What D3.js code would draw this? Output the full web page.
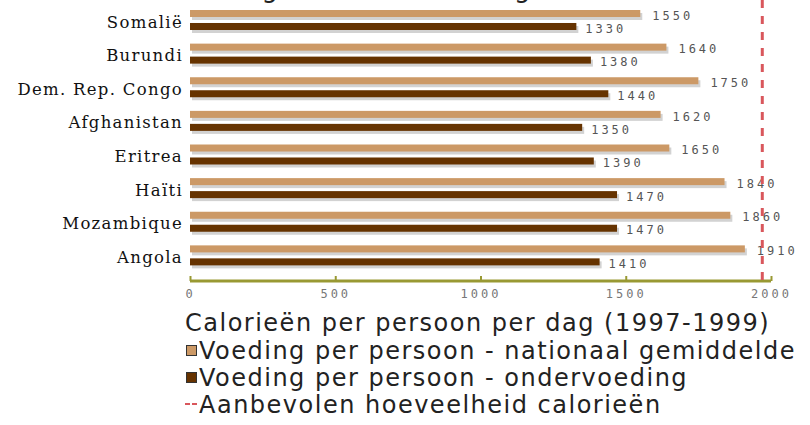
<!DOCTYPE html>
<html>
<head>
<meta charset="utf-8">
<script src="https://cdn.jsdelivr.net/npm/d3@7"></script>
<style>
  body { margin: 0; background: #fff; }
  svg { display: block; }
  .cat { font-family: "DejaVu Serif", serif; font-size: 16.5px; fill: #111; letter-spacing: 1.3px; }
  .val { font-family: "DejaVu Sans Mono", monospace; font-size: 12px; fill: #555; letter-spacing: 3px; }
  .big { font-family: "DejaVu Sans", sans-serif; font-size: 24px; fill: #222; letter-spacing: 1.5px; }
</style>
</head>
<body>
<div id="chart"></div>
<script>
// data
const countries = ["Somalië", "Burundi", "Dem. Rep. Congo", "Afghanistan", "Eritrea", "Haïti", "Mozambique", "Angola"];
const nationaal = [1550, 1640, 1750, 1620, 1650, 1840, 1860, 1910];
const ondervoeding = [1330, 1380, 1440, 1350, 1390, 1470, 1470, 1410];
const aanbevolen = 1970;
const xTicks = [0, 500, 1000, 1500, 2000];
const seriesNames = ["Voeding per persoon - nationaal gemiddelde", "Voeding per persoon - ondervoeding"];
const colors = ["#cc9966", "#663300"];
const title = "Voedselvoorziening en ondervoeding";
const axisTitle = "Calorieën per persoon per dag (1997-1999)";
const refLabel = "Aanbevolen hoeveelheid calorieën";

const W = 810, H = 425;
const svg = d3.select("#chart").append("svg")
  .attr("width", W)
  .attr("height", H);

const x = d3.scaleLinear().domain([0, 2000]).range([190, 771]);
const y = d3.scaleBand().domain(countries).range([4, 273]);
const inner = d3.scaleBand().domain([0, 1]).range([6, 26]).paddingInner(0.46);

// title, cut off by the top edge as in the original
svg.append("text")
  .attr("class", "big")
  .attr("x", 0)
  .attr("y", -3)
  .style("font-size", "26px")
  .attr("fill", "#555")
  .text(title);

const rows = countries.map((c, i) => ({ country: c, vals: [nationaal[i], ondervoeding[i]] }));

const row = svg.selectAll(".row")
  .data(rows)
  .enter().append("g")
    .attr("class", "row")
    .attr("transform", d => "translate(0," + y(d.country) + ")");

row.append("text")
  .attr("class", "cat")
  .attr("x", 183)
  .attr("y", y.bandwidth() / 2 + 1)
  .attr("dy", "0.35em")
  .attr("text-anchor", "end")
  .text(d => d.country);

const bars = row.selectAll(".bar")
  .data(d => d.vals.map((v, j) => ({ v: v, j: j })))
  .enter().append("g");

// shadows first
bars.append("rect")
  .attr("x", x(0) + 2)
  .attr("y", d => inner(d.j) + 3)
  .attr("width", d => x(d.v) - x(0))
  .attr("height", inner.bandwidth())
  .attr("fill", "#d2d2d2");

bars.append("rect")
  .attr("x", x(0))
  .attr("y", d => inner(d.j))
  .attr("width", d => x(d.v) - x(0))
  .attr("height", inner.bandwidth())
  .attr("fill", d => colors[d.j]);

bars.append("text")
  .attr("class", "val")
  .attr("x", d => x(d.v) + (d.j === 0 ? 12 : 9))
  .attr("y", d => inner(d.j) + inner.bandwidth() / 2 + 2)
  .attr("dy", "0.35em")
  .text(d => d.v);

// axis
const axisY = 281;
const axis = svg.append("g")
  .attr("transform", "translate(0," + axisY + ")")
  .call(d3.axisBottom(x).tickValues(xTicks).tickSize(-5).tickPadding(6).tickFormat(d3.format("d")));
axis.select(".domain").attr("stroke", "#999933").attr("stroke-width", 3).attr("d", "M" + x(0) + ",0H" + x(2000));
axis.selectAll(".tick line").attr("stroke", "#999933").attr("stroke-width", 2);
axis.selectAll(".tick text")
  .attr("class", "val")
  .attr("font-family", null)
  .attr("font-size", null)
  .attr("fill", null)
  .style("fill", "#777")
  .attr("dy", "0.9em");

// recommended line
svg.append("line")
  .attr("x1", x(aanbevolen)).attr("x2", x(aanbevolen))
  .attr("y1", 0).attr("y2", axisY + 2)
  .attr("stroke", "#d9575c")
  .attr("stroke-width", 3)
  .attr("stroke-dasharray", "8,8");

// axis title
svg.append("text")
  .attr("class", "big")
  .attr("x", 185)
  .attr("y", 323)
  .attr("dy", "0.35em")
  .text(axisTitle);

// legend
const legend = svg.append("g");
const legY = [351, 378, 405];
seriesNames.forEach((name, i) => {
  legend.append("rect")
    .attr("x", 186.5).attr("y", legY[i] - 5.5)
    .attr("width", 10).attr("height", 10)
    .attr("fill", colors[i])
    .attr("stroke", "#333").attr("stroke-width", 1);
  legend.append("text")
    .attr("class", "big")
    .attr("x", 199)
    .attr("y", legY[i])
    .attr("dy", "0.35em")
    .text(name);
});
legend.append("line")
  .attr("x1", 185).attr("x2", 198)
  .attr("y1", legY[2] - 1).attr("y2", legY[2] - 1)
  .attr("stroke", "#d9575c")
  .attr("stroke-width", 2)
  .attr("stroke-dasharray", "5,2");
legend.append("text")
  .attr("class", "big")
  .attr("x", 199)
  .attr("y", legY[2])
  .attr("dy", "0.35em")
  .text(refLabel);
</script>
</body>
</html>
